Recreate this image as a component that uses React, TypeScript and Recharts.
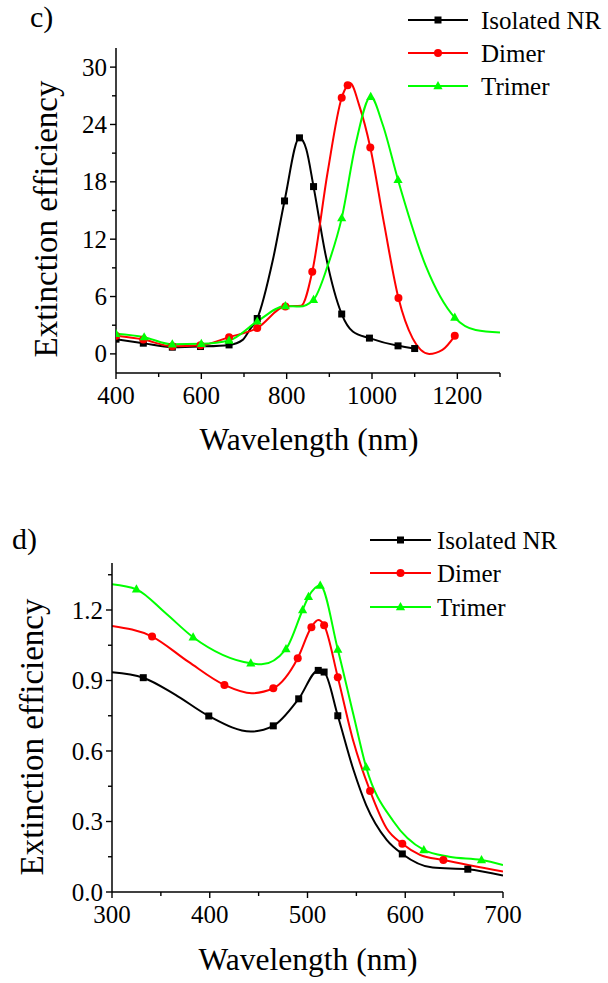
import React from "react";
import { ComposedChart, Line, XAxis, YAxis } from "recharts";

type Pt = [number, number];

// panel c) — curve samples read off the picture, and the marked points
const cIsoCurve: Pt[] = [
  [400, 1.54], [464, 1.12], [532, 0.7], [598, 0.77], [665, 0.94], [697, 1.47], [713, 2.5],
  [731, 3.7], [768, 9.9], [795, 16.0], [830, 22.6], [846, 21.4], [863, 17.5], [892, 10.2],
  [929, 4.17], [955, 2.34], [994, 1.65], [1061, 0.84], [1100, 0.56],
];
const cIsoMarks: Pt[] = [
  [400, 1.54], [464, 1.12], [532, 0.7], [598, 0.77], [665, 0.94], [731, 3.7], [795, 16.0],
  [830, 22.6], [863, 17.5], [929, 4.17], [994, 1.65], [1061, 0.84], [1100, 0.56],
];
const cDimerCurve: Pt[] = [
  [400, 1.89], [464, 1.5], [532, 0.8], [598, 0.9], [665, 1.75], [731, 2.7], [797, 4.97],
  [834, 5.04], [860, 8.6], [896, 19.0], [929, 26.8], [943, 28.1], [949, 28.3], [970, 26.0],
  [996, 21.6], [1028, 13.7], [1062, 5.84], [1095, 1.65], [1134, 0.0], [1165, 0.42], [1194, 1.89],
];
const cDimerMarks: Pt[] = [
  [400, 1.89], [464, 1.5], [532, 0.8], [598, 0.9], [665, 1.75], [731, 2.7], [797, 4.97],
  [860, 8.6], [929, 26.8], [943, 28.1], [996, 21.6], [1062, 5.84], [1194, 1.89],
];
const cTrimerCurve: Pt[] = [
  [400, 2.1], [466, 1.75], [532, 1.0], [600, 1.05], [665, 1.4], [731, 3.4], [797, 5.0],
  [830, 4.95], [863, 5.67], [896, 9.2], [929, 14.2], [962, 22.0], [997, 26.9], [1025, 24.0],
  [1061, 18.2], [1126, 9.2], [1194, 3.8], [1243, 2.5], [1300, 2.24],
];
const cTrimerMarks: Pt[] = [
  [400, 2.1], [466, 1.75], [532, 1.0], [600, 1.05], [665, 1.4], [731, 3.4], [797, 5.0],
  [863, 5.67], [929, 14.2], [997, 26.9], [1061, 18.2], [1194, 3.8],
];
const cXTicks = [400, 500, 600, 700, 800, 900, 1000, 1100, 1200, 1300];
const cXLabels = [400, 600, 800, 1000, 1200];
const cYTicks = [0, 3, 6, 9, 12, 15, 18, 21, 24, 27, 30];
const cYLabels = [0, 6, 12, 18, 24, 30];

// panel d)
const dIsoCurve: Pt[] = [
  [300, 0.935], [332, 0.912], [365, 0.839], [399, 0.749], [442, 0.683], [465, 0.707],
  [491, 0.822], [511, 0.943], [517, 0.936], [531, 0.75], [547, 0.52], [560, 0.37],
  [581, 0.222], [597, 0.162], [628, 0.104], [664, 0.097], [700, 0.07],
];
const dIsoMarks: Pt[] = [
  [332, 0.912], [399, 0.749], [465, 0.707], [491, 0.822], [511, 0.943], [517, 0.936],
  [531, 0.75], [597, 0.162], [664, 0.097],
];
const dDimerCurve: Pt[] = [
  [300, 1.132], [341, 1.087], [378, 0.98], [415, 0.881], [443, 0.846], [465, 0.867],
  [490, 0.995], [504, 1.127], [511, 1.157], [517, 1.135], [531, 0.914], [547, 0.64],
  [564, 0.43], [581, 0.27], [597, 0.205], [615, 0.158], [639, 0.136], [700, 0.087],
];
const dDimerMarks: Pt[] = [
  [341, 1.087], [415, 0.881], [465, 0.867], [490, 0.995], [504, 1.127], [517, 1.135],
  [531, 0.914], [564, 0.43], [597, 0.205], [639, 0.136],
];
const dTrimerCurve: Pt[] = [
  [300, 1.31], [325, 1.288], [355, 1.186], [383, 1.084], [442, 0.973], [453, 0.969],
  [478, 1.034], [495, 1.2], [501, 1.256], [513, 1.304], [531, 1.032], [547, 0.754],
  [560, 0.531], [588, 0.3], [619, 0.179], [645, 0.15], [678, 0.136], [700, 0.115],
];
const dTrimerMarks: Pt[] = [
  [325, 1.288], [383, 1.084], [442, 0.973], [478, 1.034], [495, 1.2], [501, 1.256],
  [513, 1.304], [531, 1.032], [560, 0.531], [619, 0.179], [678, 0.136],
];
const dXTicks = [300, 350, 400, 450, 500, 550, 600, 650, 700];
const dXLabels = [300, 400, 500, 600, 700];
const dYTicks = [0, 0.15, 0.3, 0.45, 0.6, 0.75, 0.9, 1.05, 1.2, 1.35];
const dYLabels = [0, 0.3, 0.6, 0.9, 1.2];

const seriesNames = ["Isolated NR", "Dimer", "Trimer"];
const COLORS = ["#000000", "#ff0000", "#00ff00"];
const SHAPES = ["square", "circle", "triangle"];
const FONT = '"Liberation Serif", "DejaVu Serif", "Times New Roman", serif';
const serif = (size: number) => ({ fontFamily: FONT, fontSize: size });

const rows = (pts: Pt[]) => pts.map(([x, y]) => ({ x, y }));

function Marker({ shape, color, cx, cy }: { shape: string; color: string; cx: number; cy: number }) {
  if (shape === "square") return <rect x={cx - 3.5} y={cy - 3.5} width={7} height={7} fill={color} />;
  if (shape === "circle") return <circle cx={cx} cy={cy} r={4} fill={color} />;
  return <path d={`M${cx},${cy - 5} L${cx + 4.6},${cy + 3.2} L${cx - 4.6},${cy + 3.2} Z`} fill={color} />;
}

const markerDot = (shape: string, color: string) => (props: any) => {
  const { cx, cy, index } = props;
  if (cx == null || cy == null) return <g key={index} />;
  return (
    <g key={index}>
      <Marker shape={shape} color={color} cx={cx} cy={cy} />
    </g>
  );
};

const xTick = (labels: number[]) => (props: any) => {
  const { x, y, payload } = props;
  const major = labels.some((v) => Math.abs(v - payload.value) < 1e-6);
  return (
    <g>
      <line x1={x} x2={x} y1={y} y2={y + (major ? 6 : 4)} stroke="#000" strokeWidth={1.4} />
      {major && (
        <text x={x} y={y + 31} textAnchor="middle" style={serif(25)} fill="#000">
          {payload.value}
        </text>
      )}
    </g>
  );
};

const yTick = (labels: number[], digits: number) => (props: any) => {
  const { x, y, payload } = props;
  const major = labels.some((v) => Math.abs(v - payload.value) < 1e-6);
  return (
    <g>
      <line x1={x} x2={x - (major ? 6 : 4)} y1={y} y2={y} stroke="#000" strokeWidth={1.4} />
      {major && (
        <text x={x - 9} y={y} dy="0.34em" textAnchor="end" style={serif(25)} fill="#000">
          {Number(payload.value).toFixed(digits)}
        </text>
      )}
    </g>
  );
};

function Panel({
  width, height, margin, yAxisWidth, xDomain, yDomain, xTicks, xLabels, yTicks, yLabels, digits, curves, marks,
}: {
  width: number; height: number; margin: any; yAxisWidth: number;
  xDomain: [number, number]; yDomain: [number, number];
  xTicks: number[]; xLabels: number[]; yTicks: number[]; yLabels: number[]; digits: number;
  curves: Pt[][]; marks: Pt[][];
}) {
  return (
    <ComposedChart width={width} height={height} margin={margin}>
      <XAxis
        type="number"
        dataKey="x"
        domain={xDomain}
        ticks={xTicks}
        interval={0}
        height={60}
        tickSize={0}
        tickMargin={0}
        tickLine={false}
        axisLine={{ stroke: "#000", strokeWidth: 1.5 }}
        tick={xTick(xLabels)}
        allowDataOverflow
      />
      <YAxis
        type="number"
        domain={yDomain}
        ticks={yTicks}
        interval={0}
        width={yAxisWidth}
        tickSize={0}
        tickMargin={0}
        tickLine={false}
        axisLine={{ stroke: "#000", strokeWidth: 1.5 }}
        tick={yTick(yLabels, digits)}
        allowDataOverflow
      />
      {curves.map((c, i) => (
        <Line
          key={`c${i}`}
          data={rows(c)}
          dataKey="y"
          type="monotone"
          stroke={COLORS[i]}
          strokeWidth={2}
          dot={false}
          activeDot={false}
          isAnimationActive={false}
        />
      ))}
      {marks.map((m, i) => (
        <Line
          key={`m${i}`}
          data={rows(m)}
          dataKey="y"
          stroke="none"
          dot={markerDot(SHAPES[i], COLORS[i])}
          activeDot={false}
          isAnimationActive={false}
        />
      ))}
    </ComposedChart>
  );
}

function LegendBlock({ x0, x1, tx, rowsY }: { x0: number; x1: number; tx: number; rowsY: number[] }) {
  return (
    <g>
      {seriesNames.map((name, i) => (
        <g key={name}>
          <line x1={x0} x2={x1} y1={rowsY[i]} y2={rowsY[i]} stroke={COLORS[i]} strokeWidth={2} />
          <Marker shape={SHAPES[i]} color={COLORS[i]} cx={(x0 + x1) / 2} cy={rowsY[i]} />
          <text x={tx} y={rowsY[i] + 8.5} style={serif(25)} fill="#000">
            {name}
          </text>
        </g>
      ))}
    </g>
  );
}

export default function App() {
  return (
    <div style={{ position: "absolute", left: 0, top: 0, width: 608, height: 983, background: "#fff", fontFamily: FONT }}>
      <div style={{ position: "absolute", left: 0, top: 0 }}>
        <Panel
          width={608}
          height={480}
          margin={{ top: 48, right: 108, bottom: 47, left: 0 }}
          yAxisWidth={116}
          xDomain={[400, 1300]}
          yDomain={[-2, 32]}
          xTicks={cXTicks}
          xLabels={cXLabels}
          yTicks={cYTicks}
          yLabels={cYLabels}
          digits={0}
          curves={[cIsoCurve, cDimerCurve, cTrimerCurve]}
          marks={[cIsoMarks, cDimerMarks, cTrimerMarks]}
        />
      </div>
      <div style={{ position: "absolute", left: 0, top: 500 }}>
        <Panel
          width={608}
          height={483}
          margin={{ top: 63, right: 105, bottom: 31, left: 0 }}
          yAxisWidth={112}
          xDomain={[300, 700]}
          yDomain={[0, 1.4]}
          xTicks={dXTicks}
          xLabels={dXLabels}
          yTicks={dYTicks}
          yLabels={dYLabels}
          digits={1}
          curves={[dIsoCurve, dDimerCurve, dTrimerCurve]}
          marks={[dIsoMarks, dDimerMarks, dTrimerMarks]}
        />
      </div>
      <svg width={608} height={983} style={{ position: "absolute", left: 0, top: 0, pointerEvents: "none" }}>
        <text x={30} y={27} style={serif(30)}>c)</text>
        <text x={12} y={549} style={serif(30)}>d)</text>
        <text x={309} y={450} textAnchor="middle" style={serif(31.5)}>Wavelength (nm)</text>
        <text x={308} y={970} textAnchor="middle" style={serif(31.5)}>Wavelength (nm)</text>
        <text transform="translate(57,219) rotate(-90)" textAnchor="middle" style={serif(33)}>
          Extinction efficiency
        </text>
        <text transform="translate(43,737) rotate(-90)" textAnchor="middle" style={serif(33)}>
          Extinction efficiency
        </text>
        <LegendBlock x0={408} x1={468} tx={481} rowsY={[20, 53, 86]} />
        <LegendBlock x0={370} x1={431} tx={437} rowsY={[540, 573, 607]} />
      </svg>
    </div>
  );
}
